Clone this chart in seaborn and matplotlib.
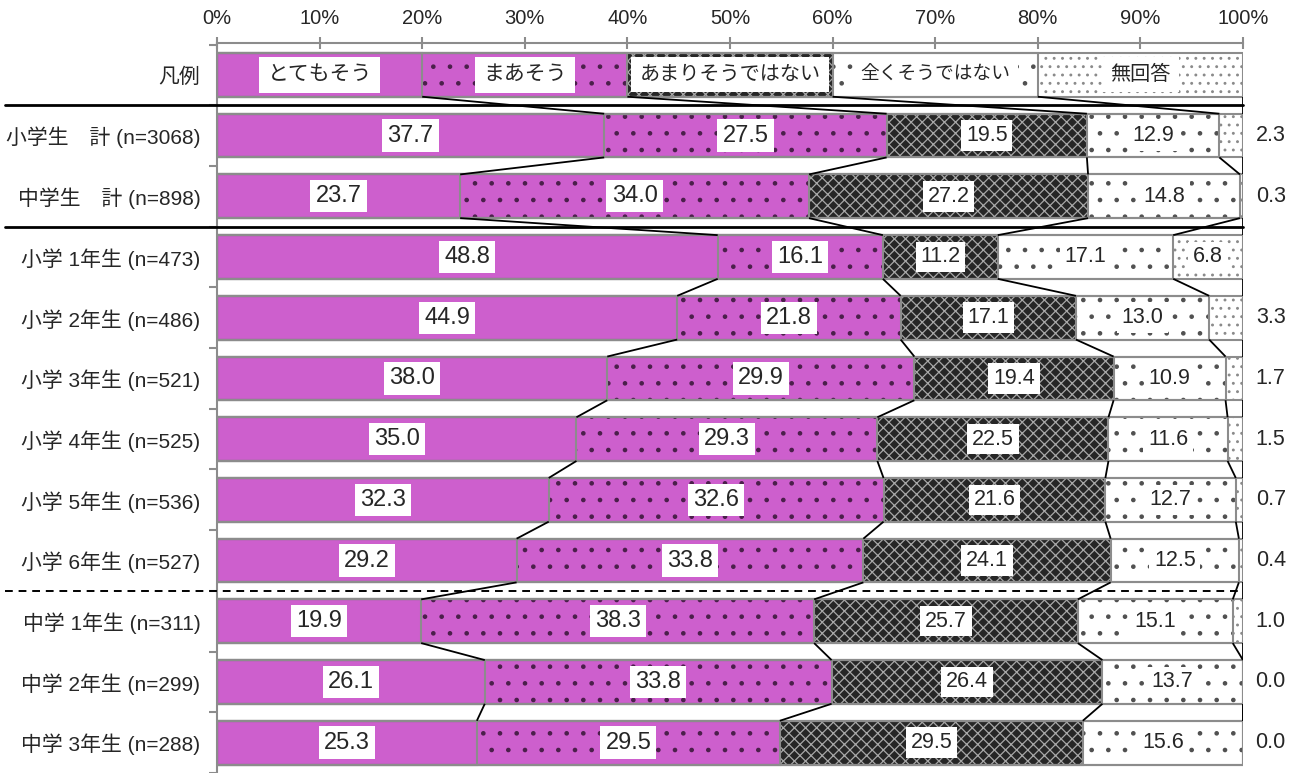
"""Stacked 100% bar chart: 小学生・中学生の回答分布 (学年別)."""

import matplotlib

matplotlib.use("Agg")
import matplotlib.pyplot as plt
import numpy as np
import pandas as pd
import seaborn as sns

categories = [
    "凡例",
    "小学生\u3000計 (n=3068)",
    "中学生\u3000計 (n=898)",
    "小学 1年生 (n=473)",
    "小学 2年生 (n=486)",
    "小学 3年生 (n=521)",
    "小学 4年生 (n=525)",
    "小学 5年生 (n=536)",
    "小学 6年生 (n=527)",
    "中学 1年生 (n=311)",
    "中学 2年生 (n=299)",
    "中学 3年生 (n=288)",
]
series = ["とてもそう", "まあそう", "あまりそうではない", "全くそうではない", "無回答"]

# first row is the legend row (20% each)
totemo = [20, 37.7, 23.7, 48.8, 44.9, 38.0, 35.0, 32.3, 29.2, 19.9, 26.1, 25.3]
maa = [20, 27.5, 34.0, 16.1, 21.8, 29.9, 29.3, 32.6, 33.8, 38.3, 33.8, 29.5]
amari = [20, 19.5, 27.2, 11.2, 17.1, 19.4, 22.5, 21.6, 24.1, 25.7, 26.4, 29.5]
mattaku = [20, 12.9, 14.8, 17.1, 13.0, 10.9, 11.6, 12.7, 12.5, 15.1, 13.7, 15.6]
mukaitou = [20, 2.3, 0.3, 6.8, 3.3, 1.7, 1.5, 0.7, 0.4, 1.0, 0.0, 0.0]

# (face, hatch, hatch colour, value label size, legend label size)
styles = [
    ("#CD5FCD", "", "#CD5FCD", 17, 15),
    ("#CD5FCD", ".", "#4a1f4a", 17, 15),
    ("#262626", "xxx", "#a8a8a8", 15.5, 14.5),
    ("#ffffff", ".", "#505050", 15.5, 13.5),
    ("#ffffff", "..", "#8a8a8a", 15.5, 14.5),
]
EDGE = "#8c8c8c"
BAR_W = 0.72

sns.set_style("white")
plt.rcParams["font.family"] = ["Liberation Sans", "Noto Sans CJK JP"]
plt.rcParams["hatch.linewidth"] = 0.9

values = np.array([totemo, maa, amari, mattaku, mukaitou]).T
shares = values / values.sum(axis=1, keepdims=True) * 100
cum = np.cumsum(shares, axis=1)
starts = cum - shares

df = pd.DataFrame({"category": categories})
for k in range(len(series)):
    df[f"cum{k}"] = cum[:, k]

fig = plt.figure(figsize=(13.03, 7.73), dpi=100)
ax = fig.add_axes([217 / 1303, 0.0, 1026 / 1303, 730 / 773])

# draw from the longest cumulative bar down so each layer covers the previous
for k in reversed(range(len(series))):
    face, hatch, hcol = styles[k][:3]
    sns.barplot(
        data=df, x=f"cum{k}", y="category", order=categories, orient="h",
        color=face, saturation=1, hatch=hatch, edgecolor=hcol, linewidth=0,
        width=BAR_W, errorbar=None, ax=ax,
    )
# segment outlines
for k in reversed(range(len(series))):
    sns.barplot(
        data=df, x=f"cum{k}", y="category", order=categories, orient="h",
        color=EDGE, fill=False, linewidth=1.5, width=BAR_W, errorbar=None, ax=ax,
    )

n = len(categories)
# connector lines between neighbouring bars
for i in range(n - 1):
    for k in range(len(series)):
        ax.plot([cum[i, k], cum[i + 1, k]], [i + BAR_W / 2, i + 1 - BAR_W / 2],
                color="black", lw=1.3, zorder=3, solid_capstyle="butt")

# segment labels
for i in range(n):
    for k in range(len(series)):
        if i == 0:
            txt, size = series[k], styles[k][4]
            box = dict(boxstyle="square,pad=0.4", fc="white", ec="none")
        else:
            txt, size = f"{values[i, k]:.1f}", styles[k][3]
            box = dict(boxstyle="square,pad=0.22", fc="white", ec="none")
        if k == len(series) - 1 and i > 0 and values[i, k] < 5:
            ax.text(102.7, i, txt, ha="center", va="center", fontsize=15.5,
                    clip_on=False, zorder=5)
        else:
            ax.text(starts[i, k] + shares[i, k] / 2, i, txt, ha="center",
                    va="center", fontsize=size, bbox=box, zorder=5)

# group separators
trans = ax.get_yaxis_transform()
for y, ls in [(0.5, "-"), (2.5, "-"), (8.5, (0, (4, 3)))]:
    ax.plot([-0.207, 1.0], [y, y], transform=trans, color="black",
            lw=2 if ls == "-" else 1.4, ls=ls, clip_on=False, zorder=4)

ax.set_xlim(0, 100)
ax.set_ylim(n - 0.56, -0.525)
ax.set_xlabel("")
ax.set_ylabel("")
ax.xaxis.tick_top()
ax.set_xticks(np.arange(0, 101, 10))
ax.set_xticklabels([f"{t}%" for t in range(0, 101, 10)])
ax.tick_params(axis="x", direction="inout", length=9, width=1.5, color=EDGE,
               labelsize=14.5, pad=6)
ax.set_yticks(np.arange(-0.5, n, 1), minor=True)
ax.tick_params(axis="y", which="major", length=0, labelsize=15, pad=12)
ax.tick_params(axis="y", which="minor", direction="out", length=6, width=1.5,
               color=EDGE, left=True)
for side in ["right", "bottom"]:
    ax.spines[side].set_visible(False)
for side in ["left", "top"]:
    ax.spines[side].set_color(EDGE)
    ax.spines[side].set_linewidth(1.5)

fig.savefig("out.png", dpi=100)
